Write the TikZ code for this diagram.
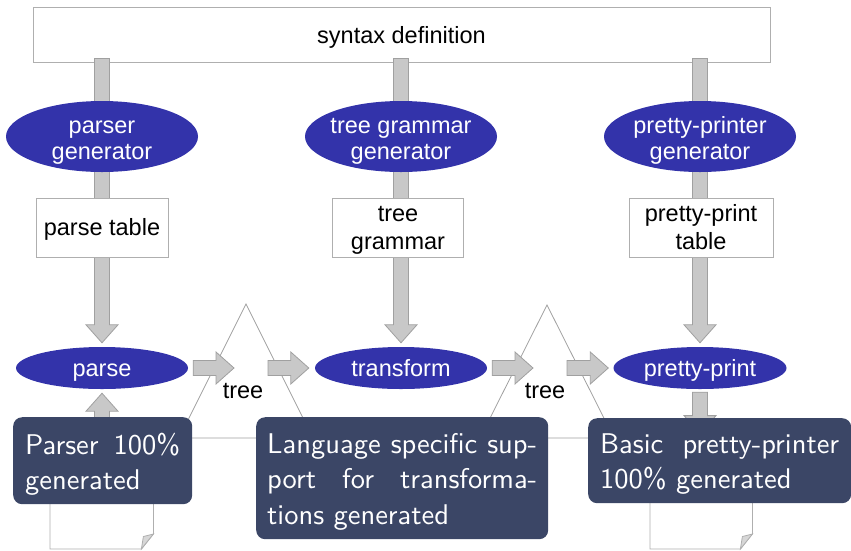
\documentclass[tikz,border=0pt]{standalone}
\usepackage{fontspec}
\newfontfamily\arialfont{Liberation Sans}
\newfontfamily\boxfont{lmsans10-regular.otf}
\usetikzlibrary{calc,shapes.geometric}
\definecolor{ellblue}{RGB}{51,51,170}
\definecolor{darkbox}{RGB}{59,70,102}
\definecolor{arrfill}{RGB}{200,200,200}
\definecolor{arrdraw}{RGB}{160,160,160}
\definecolor{linegray}{RGB}{175,175,175}
\definecolor{flapgray}{RGB}{215,215,215}
\pgfdeclarelayer{bg}\pgfdeclarelayer{arr}\pgfdeclarelayer{fg}
\pgfsetlayers{bg,arr,main,fg}
\newcommand\blockarrow[2]{%
  \path[blockarrowstyle] let \p1=#1, \p2=#2,
    \n1={atan2(\y2-\y1,\x2-\x1)}, \n2={veclen(\x2-\x1,\y2-\y1)} in
    [shift={(\p1)}, rotate=\n1]
    (0,-7.5) -- ({\n2-18},-7.5) -- ({\n2-18},-16) -- (\n2,0) --
    ({\n2-18},16) -- ({\n2-18},7.5) -- (0,7.5) -- cycle;}
\newcommand\fullline[2]{\leavevmode\hbox to #1pt{#2}}
\begin{document}
\begin{tikzpicture}[x=1pt,y=1pt,
  blockarrowstyle/.style={fill=arrfill, draw=arrdraw, line width=0.8},
  gen/.style={ellipse, fill=ellblue, text=white, inner sep=0,
    minimum width=192, minimum height=71, align=center,
    font=\arialfont\fontsize{23.5}{26.5}\selectfont, text height=47, text depth=0.4},
  op/.style={ellipse, fill=ellblue, text=white, inner sep=0,
    minimum width=172, minimum height=42,
    font=\arialfont\fontsize{23.5}{26.5}\selectfont, text height=16, text depth=0},
  artefact/.style={rectangle, draw=linegray, fill=white, line width=0.8, inner sep=0,
    minimum height=59, align=center,
    font=\arialfont\fontsize{23.5}{27.5}\selectfont, text height=44, text depth=0.4},
  lbl/.style={font=\arialfont\fontsize{23.5}{26.5}\selectfont, inner sep=0, anchor=base},
  darkbox/.style={rectangle, rounded corners=9, fill=darkbox, text=white, inner ysep=0,
    align=left, font=\boxfont\fontsize{28.5}{35.5}\selectfont},
  docnode/.style={rectangle, draw=none, inner sep=0, minimum height=115},
  docline/.style={draw=linegray, line width=0.8, fill=white},
  treeline/.style={draw=arrdraw, line width=0.8}
]
\useasboundingbox (0,0) rectangle (851,-550);

\begin{pgfonlayer}{bg}
\node[rectangle, draw=linegray, fill=white, line width=0.8, minimum width=737,
  minimum height=55, inner sep=0, font=\arialfont\fontsize{23.5}{26.5}\selectfont,
  text height=18, text depth=0] (syn) at (401.5,-34.5) {syntax definition};
\draw[treeline] (179,-438) -- (246,-304) -- (313,-438) -- cycle;
\draw[treeline] (480,-438) -- (547,-305) -- (614,-438) -- cycle;
\end{pgfonlayer}

% generators
\node[gen] (pgen) at (102,-136.5) {parser\\generator};
\node[gen] (tgen) at (401,-136.5) {\makebox[100pt]{tree grammar}\\generator};
\node[gen] (ppgen) at (700,-136.5) {pretty-printer\\generator};

% artefacts
\node[artefact, minimum width=132, text height=15, text depth=0] (ptab) at (102,-227.5) {parse table};
\node[artefact, minimum width=131] (tgram) at (398,-227.5) {tree\\grammar};
\node[artefact, minimum width=144] (pptab) at (701,-227.5) {pretty-print\\table};

% operations
\node[op] (parse) at (102,-368) {parse};
\node[op] (transform) at (401,-368) {transform};
\node[op, minimum width=173] (pp) at (700,-368) {pretty-print};

% tree labels
\node[lbl] (tree1) at (243,-398) {tree};
\node[lbl] (tree2) at (545,-398) {tree};
\coordinate (t1w) at (234,-368);
\coordinate (t1e) at (268,-368);
\coordinate (t2w) at (533,-368);
\coordinate (t2e) at (567,-368);

% documents
\node[docnode, minimum width=103, anchor=south west] (doc1) at (50,-549) {};
\node[docnode, minimum width=102, anchor=south west] (doc2) at (650,-549) {};
\foreach \d in {doc1,doc2}{
  \draw[docline] (\d.north west) -- (\d.south west) -- ($(\d.south east)+(-12,0)$)
    -- ($(\d.south east)+(0,15)$) -- (\d.north east) -- cycle;
  \draw[docline, fill=flapgray] ($(\d.south east)+(-12,0)$) -- ($(\d.south east)+(-10,12.5)$)
    -- ($(\d.south east)+(0,15)$) -- cycle;
}

\begin{pgfonlayer}{arr}
\blockarrow{($(syn.south -| pgen)+(0,4)$)}{(pgen.center)}
\blockarrow{(pgen.center)}{(pgen |- ptab.center)}
\blockarrow{(pgen |- ptab.center)}{($(parse.north)+(0,4)$)}
\blockarrow{($(syn.south -| tgen)+(0,4)$)}{(tgen.center)}
\blockarrow{(tgen.center)}{(tgen |- tgram.center)}
\blockarrow{(tgen |- tgram.center)}{($(transform.north)+(0,4)$)}
\blockarrow{($(syn.south -| ppgen)+(0,4)$)}{(ppgen.center)}
\blockarrow{(ppgen.center)}{(ppgen |- pptab.center)}
\blockarrow{(ppgen |- pptab.center)}{($(pp.north)+(0,4)$)}
\blockarrow{($(parse.east)+(5,0)$)}{(t1w)}
\blockarrow{(t1e)}{($(transform.west)+(-6,0)$)}
\blockarrow{($(transform.east)+(5,0)$)}{(t2w)}
\blockarrow{(t2e)}{($(pp.west)+(-5,0)$)}
\blockarrow{(parse |- doc1.north)}{($(parse.south)+(0,-4)$)}
\blockarrow{($(pp.south)+(0,-3)$)}{(pp |- doc2.north)}
\end{pgfonlayer}

\begin{pgfonlayer}{fg}
\node[darkbox, anchor=north west, text width=155, inner xsep=12, text height=37, text depth=50]
  (b1) at (13,-417) {\fullline{155}{Parser\hfill 100\%}\\generated};
\node[darkbox, anchor=north west, text width=270, inner xsep=11, text height=36, text depth=86]
  (b2) at (256,-417) {\fullline{270}{Language\hfill specific\hfill sup-}\\\fullline{270}{port\hfill for\hfill transforma-}\\tions generated};
\node[darkbox, anchor=north west, text width=239, inner xsep=12, text height=35, text depth=50]
  (b3) at (588,-418) {\fullline{239}{Basic\hfill pretty-printer}\\100\% generated};
\end{pgfonlayer}
\end{tikzpicture}
\end{document}
